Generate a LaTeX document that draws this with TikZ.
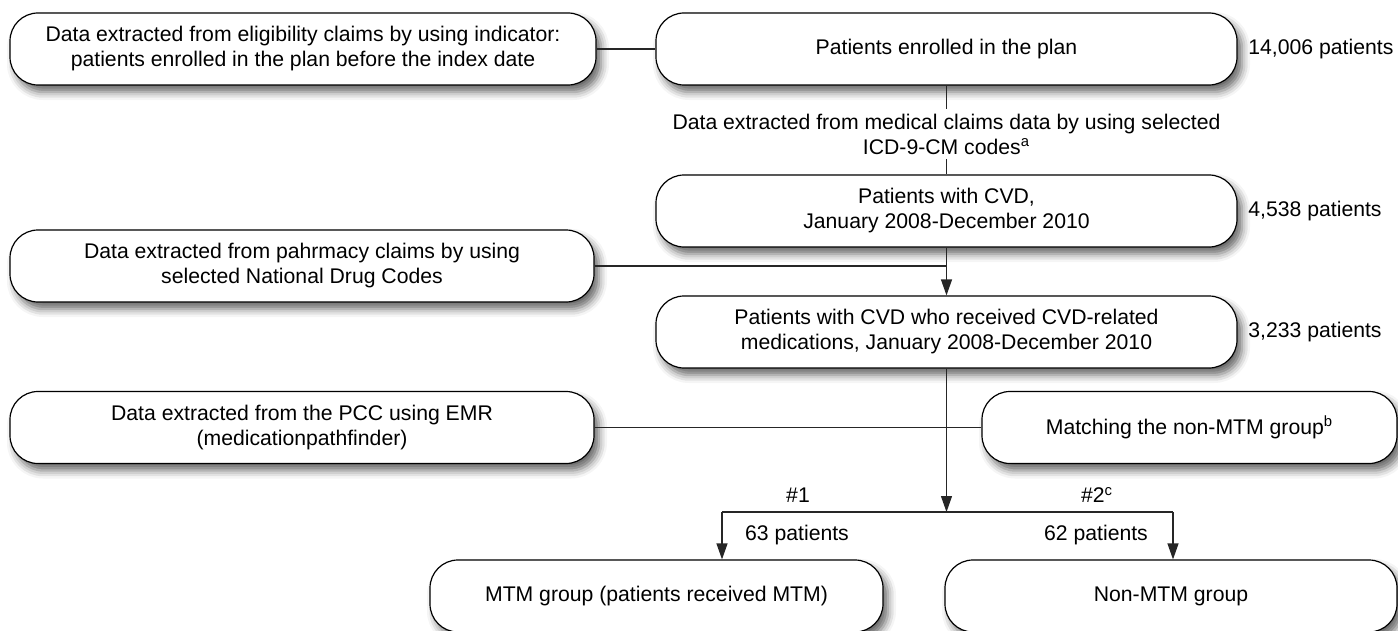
\documentclass[tikz,border=0pt]{standalone}
\usepackage{fontspec}
\setmainfont{Liberation Sans}
\usetikzlibrary{shadows.blur,arrows.meta}

\tikzset{
  box/.style={draw=black, line width=0.6pt, fill=white, rounded corners=14pt,
    minimum height=36pt, inner sep=0pt, align=center,
    font=\fontsize{10.6}{12.5}\selectfont,
    blur shadow={shadow xshift=2.5pt, shadow yshift=-3.5pt, shadow blur radius=4pt, shadow opacity=60}},
  lbl/.style={font=\fontsize{10.6}{12.5}\selectfont, inner sep=0pt, align=center},
  conn/.style={draw=black!85, line width=0.6pt},
  arr/.style={conn, -{Triangle[length=8pt,width=5.5pt]}},
}

\begin{document}
\begin{tikzpicture}[x=0.5pt,y=-0.5pt]
\useasboundingbox (0,0) rectangle (1398,631);

\node[box, minimum width=293pt] (A) at (303,49)
  {Data extracted from eligibility claims by using indicator:\\patients enrolled in the plan before the index date};
\node[box, minimum width=290.5pt] (B) at (946.5,49) {Patients enrolled in the plan};
\node[lbl, anchor=west] (nB) at (1248,49) {14,006 patients};

\node[lbl, minimum height=25pt] (mid) at (946.5,134)
  {Data extracted from medical claims data by using selected\\ICD-9-CM codes\textsuperscript{a}};

\node[box, minimum width=290.5pt] (C) at (946.5,211) {Patients with CVD,\\January 2008-December 2010};
\node[lbl, anchor=west] (nC) at (1248,211) {4,538 patients};

\node[box, minimum width=292pt] (D) at (302,266)
  {Data extracted from pahrmacy claims by using\\selected National Drug Codes};

\node[box, minimum width=290.5pt] (E) at (946.5,332)
  {Patients with CVD who received CVD-related\\medications, January 2008-December 2010};
\node[lbl, anchor=west] (nE) at (1248,332) {3,233 patients};

\node[box, minimum width=292pt] (F) at (302,427.5)
  {Data extracted from the PCC using EMR\\(medicationpathfinder)};
\node[box, minimum width=207.5pt] (G) at (1189.5,427.5)
  {Matching the non-MTM group\textsuperscript{b}};

\node[box, minimum width=226.5pt] (H) at (656.5,596) {MTM group (patients received MTM)};
\node[box, minimum width=226pt] (I) at (1171,596) {Non-MTM group};

\node[lbl] (l1) at (798,495) {\#1};
\node[lbl] (l2) at (1097,495) {\#2\textsuperscript{c}};
\node[lbl] (p1) at (797,535) {63 patients};
\node[lbl] (p2) at (1096,535) {62 patients};

\coordinate (jD) at (946.5,266);
\coordinate (split) at (946.5,512);
\coordinate (lend) at (722,512);
\coordinate (rend) at (1173,512);

\draw[conn] (A.east) -- (B.west);
\draw[conn] (B.south) -- (mid.north);
\draw[conn] (mid.south) -- (C.north);
\draw[conn] (D.east) -- (jD);
\draw[arr] (C.south) -- (E.north);
\draw[conn] (F.east) -- (G.west);
\draw[arr] (E.south) -- (split);
\draw[conn] (lend) -- (rend);
\draw[arr] (lend) -- (lend |- H.north);
\draw[arr] (rend) -- (rend |- I.north);
\end{tikzpicture}
\end{document}
